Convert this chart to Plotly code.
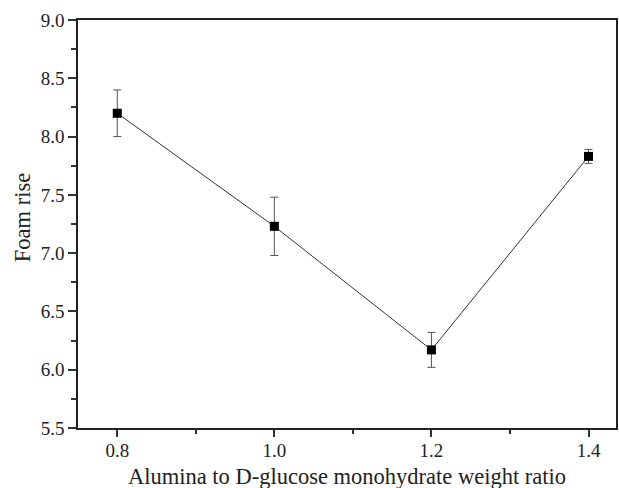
import plotly.graph_objects as go

ratios = [0.8, 1.0, 1.2, 1.4]
foam_rise = [8.20, 7.23, 6.17, 7.83]
errors = [0.20, 0.25, 0.15, 0.06]

fig = go.Figure()
fig.add_trace(go.Scatter(
    x=ratios, y=foam_rise,
    mode="lines+markers",
    line=dict(color="#333333", width=1),
    marker=dict(symbol="square", size=9, color="black"),
    error_y=dict(type="data", array=errors, visible=True,
                 color="#555555", thickness=1, width=4),
    showlegend=False,
))

font = "Liberation Serif, Times New Roman, serif"
fig.update_layout(
    width=619, height=488,
    margin=dict(l=78, r=1, t=20, b=60),
    plot_bgcolor="white", paper_bgcolor="white",
    font=dict(family=font, size=19, color="#222222"),
    annotations=[
        dict(text="Alumina to D-glucose monohydrate weight ratio",
             xref="paper", yref="paper", x=0.5, y=-0.118,
             xanchor="center", yanchor="middle", showarrow=False,
             font=dict(size=22.5, family=font, color="#222222")),
        dict(text="Foam rise", textangle=-90,
             xref="paper", yref="paper", x=-0.1037, y=0.5147,
             xanchor="center", yanchor="middle", showarrow=False,
             font=dict(size=22.5, family=font, color="#222222")),
    ],
)
fig.update_xaxes(
    range=[0.75, 1.435],
    tickvals=ratios, ticktext=["0.8", "1.0", "1.2", "1.4"],
    ticks="outside", ticklen=7, tickwidth=1.5, tickcolor="#333333",
    ticklabelstandoff=-3,
    minor=dict(dtick=0.1, tick0=0.8, ticks="outside", ticklen=4, tickwidth=1.5, tickcolor="#333333"),
    showline=True, linecolor="#222222", linewidth=1.5, mirror=True,
    showgrid=False, zeroline=False,
)
fig.update_yaxes(
    range=[5.5, 9.0],
    tickvals=[5.5, 6.0, 6.5, 7.0, 7.5, 8.0, 8.5, 9.0],
    ticktext=["5.5", "6.0", "6.5", "7.0", "7.5", "8.0", "8.5", "9.0"],
    ticks="outside", ticklen=8, tickwidth=1.5, tickcolor="#333333",
    minor=dict(dtick=0.25, tick0=5.5, ticks="outside", ticklen=5, tickwidth=1.5, tickcolor="#333333"),
    showline=True, linecolor="#222222", linewidth=1.5, mirror=True,
    showgrid=False, zeroline=False,
)

fig.write_html("out.html")
